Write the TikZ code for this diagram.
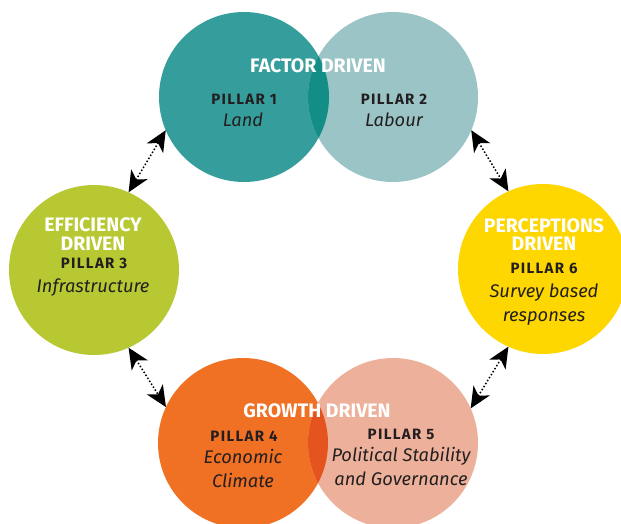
\documentclass[tikz,border=0pt]{standalone}
\usepackage{fontspec}
\setmainfont{Fira Sans}
\newfontfamily\pillarfont[LetterSpace=9]{Fira Sans}
\usetikzlibrary{arrows.meta}
\definecolor{cteal}{HTML}{359E9C}
\definecolor{clblue}{HTML}{9BC4C6}
\definecolor{ctlens}{HTML}{138E87}
\definecolor{cgreen}{HTML}{B8C833}
\definecolor{cyellow}{HTML}{FED600}
\definecolor{corange}{HTML}{F07024}
\definecolor{cpink}{HTML}{EDB19B}
\definecolor{colens}{HTML}{E5541F}
\definecolor{cdark}{HTML}{231F20}
\begin{document}
\begin{tikzpicture}[x=1pt,y=-1pt,
  disc/.style={circle,minimum size=170pt,inner sep=0pt,outer sep=0pt},
  head/.style={text=white,font=\fontsize{19.5}{18.5}\selectfont\bfseries,align=center,inner sep=0pt},
  pil/.style={text=cdark,font=\fontsize{15}{16}\pillarfont\bfseries,inner sep=0pt},
  desc/.style={text=cdark,font=\fontsize{18.3}{23.5}\selectfont\itshape,align=center,inner sep=0pt,anchor=base},
  link/.style={dotted,line width=1.5pt,
    {Stealth[length=21pt,width=19pt,inset=6pt]}-{Stealth[length=21pt,width=19pt,inset=6pt]}}
]
\useasboundingbox (0,0) rectangle (621,524);
\fill[white] (0,0) rectangle (621,524);
% discs
\node[disc,fill=cteal]   (p1) at (244,97) {};
\node[disc,fill=clblue]  (p2) at (393,97) {};
\node[disc,fill=cgreen]  (p3) at (94,270) {};
\node[disc,fill=cyellow] (p6) at (543,269) {};
\node[disc,fill=corange] (p4) at (243,443) {};
\node[disc,fill=cpink]   (p5) at (393,443) {};
% lenses
\begin{scope}
  \clip (p1.center) circle (85);
  \fill[ctlens] (p2.center) circle (85);
\end{scope}
\begin{scope}
  \clip (p4.center) circle (85);
  \fill[colens] (p5.center) circle (85);
\end{scope}
% connectors
\draw[link] (p1.203) -- (p3.66);
\draw[link] (p2.337) -- (p6.114);
\draw[link] (p3.294) -- (p4.155);
\draw[link] (p6.246) -- (p5.24);
% texts
\node[head] (h1) at (318,66) {FACTOR DRIVEN};
\node[pil] (l1) at (244,99) {PILLAR 1};
\node[desc] (d1) at (243,127) {Land};
\node[pil] (l2) at (394,99) {PILLAR 2};
\node[desc] (d2) at (394,127) {Labour};
\node[head] (h3) at (93,234) {EFFICIENCY\\DRIVEN};
\node[pil] (l3) at (94,263) {PILLAR 3};
\node[desc] (d3) at (93,292) {Infrastructure};
\node[head] (h6) at (544,234.5) {PERCEPTIONS\\DRIVEN};
\node[pil] (l6) at (544,268.5) {PILLAR 6};
\node[desc] (d6) at (544,321) {Survey based\\responses};
\node[head] (h4) at (317,411) {GROWTH DRIVEN};
\node[pil] (l4) at (244,436) {PILLAR 4};
\node[desc] (d4) at (243,487) {Economic\\Climate};
\node[pil] (l5) at (401,434) {PILLAR 5};
\node[desc] (d5) at (401,485) {Political Stability\\and Governance};
\end{tikzpicture}
\end{document}
